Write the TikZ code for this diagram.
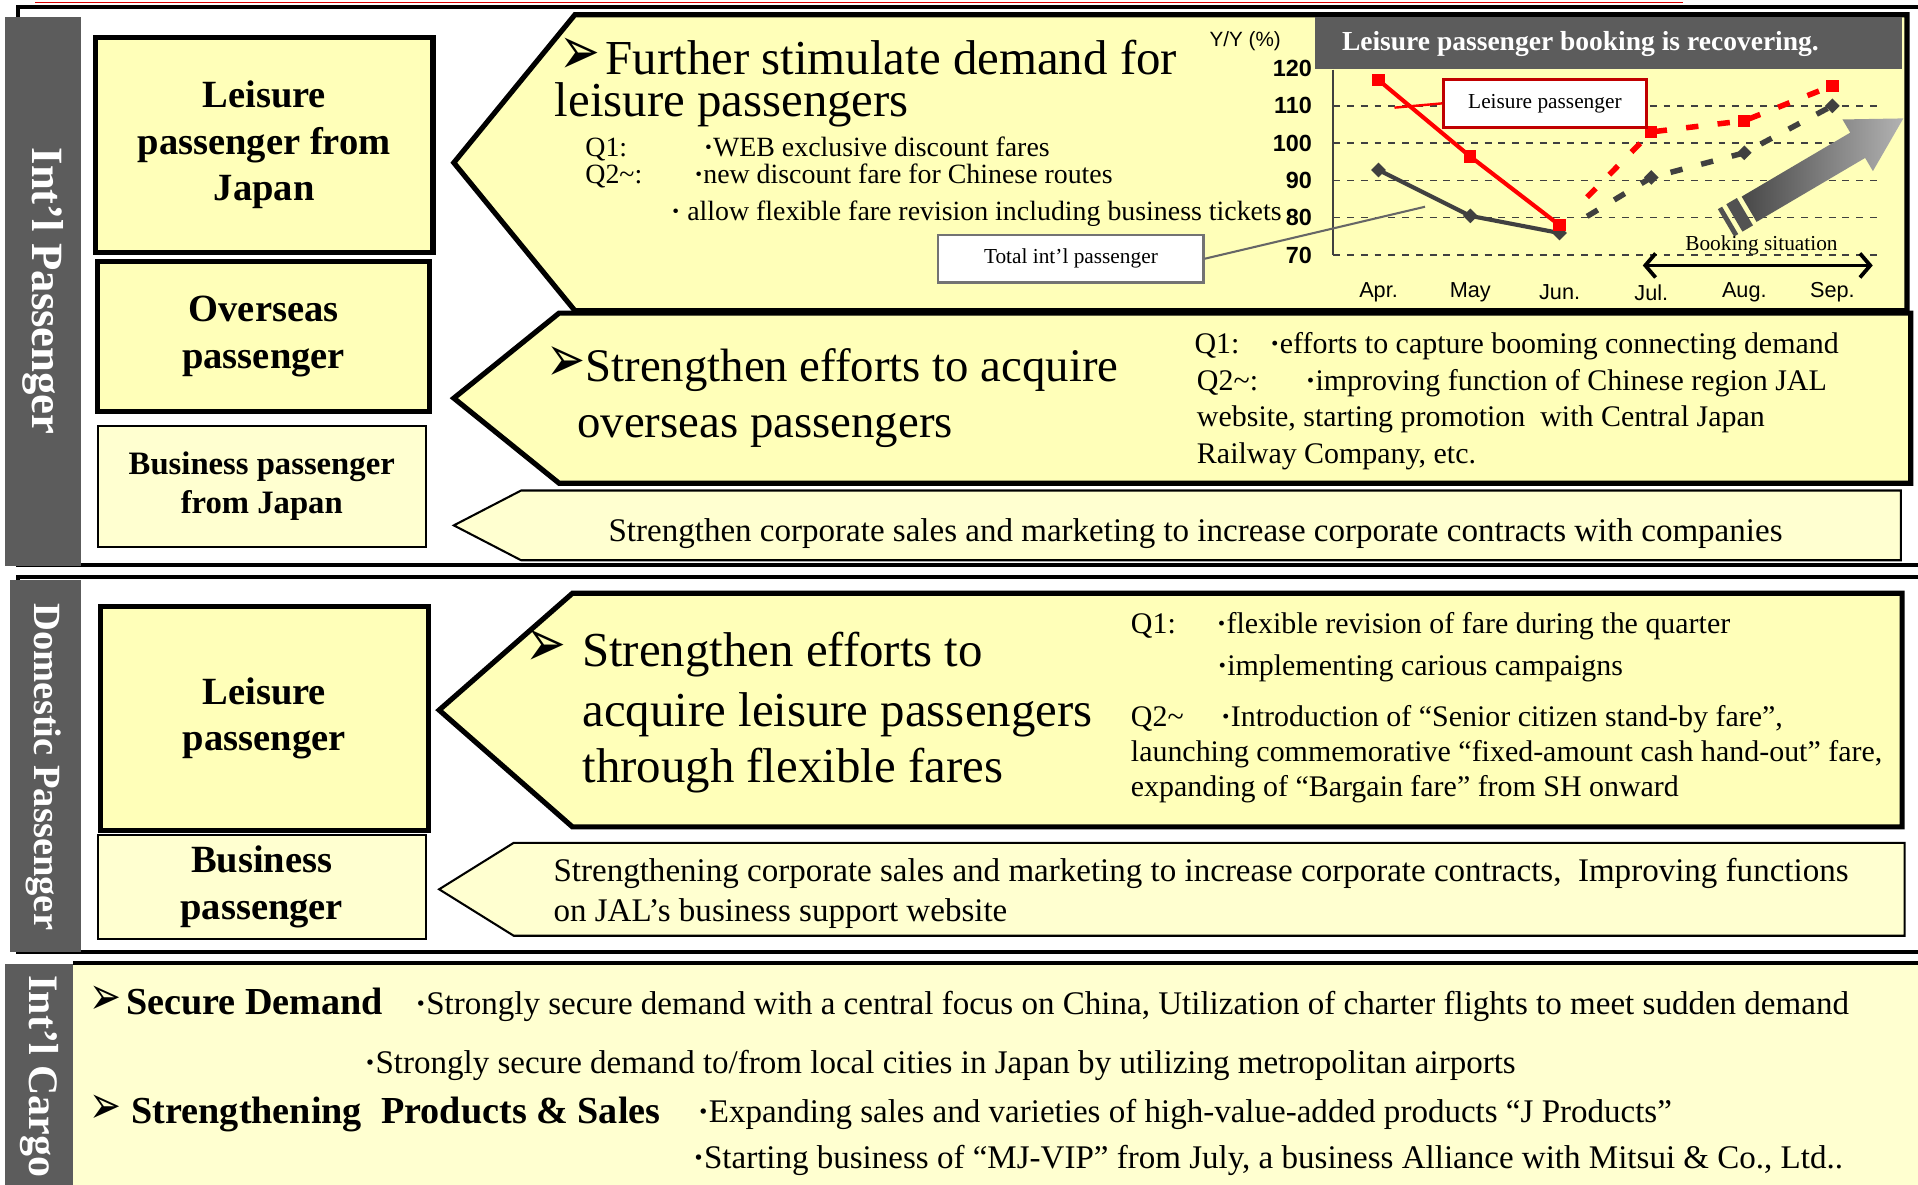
\documentclass[tikz,border=0pt]{standalone}
\usepackage{fontspec}
\setmainfont{Liberation Serif}
\setsansfont{Liberation Sans}
\newfontfamily\arrowfont{DejaVu Sans}
\usetikzlibrary{calc, arrows.meta}

\definecolor{barGray}{RGB}{92,92,92}
\definecolor{boxYellow}{RGB}{255,255,185}
\definecolor{paleYellow}{RGB}{255,255,208}
\definecolor{lineDark}{RGB}{64,64,64}
\definecolor{labelRed}{RGB}{192,0,0}
\newcommand{\tipmark}{\scalebox{1.0}[1.4]{\arrowfont ➢}}
\newcommand{\mdot}{\textbf{·}}
\newcommand{\yval}[1]{208.5-(#1-70)*3.05}

\tikzset{
    frame/.style={draw=black, line width=1.15pt},
    sidelabel/.style={text=white, rotate=-90, inner sep=0pt, font=\bfseries\fontsize{13}{15}\selectfont},
    thickbox/.style={draw=black, line width=1.5pt, fill=boxYellow, align=center, font=\bfseries\fontsize{11.2}{13.5}\selectfont},
    thinbox/.style={draw=black, line width=0.6pt, fill=paleYellow, align=center, font=\bfseries\fontsize{11.2}{13.5}\selectfont},
    bigshape/.style={draw=black, line width=1.5pt, fill=boxYellow},
    smallshape/.style={draw=black, line width=0.6pt, fill=paleYellow},
    headtext/.style={anchor=base west, inner sep=0pt, font=\fontsize{14.2}{17}\selectfont},
    notetext/.style={anchor=base west, inner sep=0pt, font=\fontsize{8.7}{10.5}\selectfont},
    smalltext/.style={anchor=base west, inner sep=0pt, font=\fontsize{8.1}{9.7}\selectfont},
    bodytext/.style={anchor=base west, inner sep=0pt, font=\fontsize{9.6}{11.5}\selectfont},
    cargohead/.style={anchor=base west, inner sep=0pt, font=\bfseries\fontsize{11.1}{13.3}\selectfont},
    gridline/.style={black!75, line width=0.4pt, dash pattern=on 2pt off 2pt},
    ticklabel/.style={anchor=east, inner sep=0pt, font=\sffamily\bfseries\fontsize{6.8}{8}\selectfont},
    monthlabel/.style={inner sep=0pt, font=\sffamily\fontsize{6.3}{7.5}\selectfont},
    leisureline/.style={red, line width=1.2pt},
    totalline/.style={lineDark, line width=1.2pt},
    forecast/.style={line width=1.6pt, dash pattern=on 3.6pt off 5.6pt},
    legendbox/.style={fill=white, line width=0.7pt, inner sep=0pt, font=\fontsize{6.2}{7.5}\selectfont},
    bookarrow/.style={{Straight Barb[length=3pt, width=7pt]}-{Straight Barb[length=3pt, width=7pt]}, line width=1.1pt}
}

\begin{document}
\begin{tikzpicture}[x=0.0125cm, y=-0.0125cm]
            \useasboundingbox (0,0) rectangle (1568,968);
            \fill[white] (0,0) rectangle (1568,968);
            \draw[red!85!black, line width=0.5pt] (29,2) -- (1376,2);
            \draw[frame] (1580,6) -- (15,6) -- (15,462) -- (1580,462);
            \draw[frame] (1580,472) -- (15,472) -- (15,778) -- (1580,778);
            \fill[paleYellow] (60,787) rectangle (1580,975);
            \draw[frame] (60,787) -- (1580,787);
            \fill[barGray] (4,14) rectangle (66,463);
            \fill[barGray] (8,474) rectangle (66,778);
            \fill[barGray] (4,788) rectangle (60,975);
            \node[sidelabel] (intlpax) at (35,238) {Int’l Passenger};
            \node[sidelabel, font=\bfseries\fontsize{11.2}{13}\selectfont] (dompax) at (36,627) {Domestic Passenger};
            \node[sidelabel, anchor=west, font=\bfseries\fontsize{12.2}{14}\selectfont] (intlcargo) at (32,797) {Int’l Cargo};

            \node (lpjp) at (216,118.5) [thickbox, minimum width=3.45cm, minimum height=2.19cm] {Leisure\\passenger from\\Japan};
            \node (ovpax) at (215.5,275) [thickbox, minimum width=3.39cm, minimum height=1.53cm] {Overseas\\passenger};
            \node (bpjp) at (214,397.5) [thinbox, minimum width=3.35cm, minimum height=1.24cm, font=\bfseries\fontsize{9.5}{11.4}\selectfont] {Business passenger\\from Japan};
            \node (dlpax) at (216,587.5) [thickbox, minimum width=3.35cm, minimum height=2.29cm] {Leisure\\passenger};
            \node (dbpax) at (214,725) [thinbox, minimum width=3.35cm, minimum height=1.05cm] {Business\\passenger};

            \draw[bigshape] (371,133) -- (470,12) -- (1559,12) -- (1559,254) -- (470,254) -- cycle;
            \draw[bigshape] (371,325.5) -- (457,256) -- (1562,256) -- (1562,395) -- (457,395) -- cycle;
            \draw[smallshape] (371,429.5) -- (426,401) -- (1554,401) -- (1554,458) -- (426,458) -- cycle;
            \draw[bigshape] (359,580.5) -- (468,485) -- (1555,485) -- (1555,676) -- (468,676) -- cycle;
            \draw[smallshape] (359,727) -- (420,689) -- (1557,689) -- (1557,765) -- (420,765) -- cycle;

            \node[headtext, align=left, font=\fontsize{14.2}{12.24}\selectfont] (fs) at (457,95.4) {\tipmark\hspace{1.5pt}Further stimulate demand for\\\hspace*{-1.4pt}leisure passengers};
            \node[smalltext] (fsq1) at (478,128) {\makebox[1.21cm][l]{Q1:}\mdot WEB exclusive discount fares};
            \node[smalltext] (fsq2) at (478,150) {\makebox[1.11cm][l]{Q2\textasciitilde:}\mdot new discount fare for Chinese routes};
            \node[smalltext] (fsq3) at (548,180) {\mdot\ allow flexible fare revision including business tickets};

            \node[headtext, font=\fontsize{13.6}{16}\selectfont] (ov1) at (446,312) {\tipmark Strengthen efforts to acquire};
            \node[headtext, font=\fontsize{13.6}{16}\selectfont] (ov2) at (471.5,358) {overseas passengers};
            \node[notetext] (ovq1) at (976,289) {\makebox[0.77cm][l]{Q1:}\mdot efforts to capture booming connecting demand};
            \node[notetext] (ovq2) at (978,319) {\makebox[1.11cm][l]{Q2\textasciitilde:}\mdot improving function of Chinese region JAL};
            \node[notetext] (ovq3) at (978,348.8) {website, starting promotion\ \ with Central Japan};
            \node[notetext] (ovq4) at (978,378.8) {Railway Company, etc.};
            \node[bodytext] (corp) at (497,442.8) {Strengthen corporate sales and marketing to increase corporate contracts with companies};

            \node[headtext] (dl1) at (429,544.5) {\makebox[0.58cm][l]{\tipmark}Strengthen efforts to};
            \node[headtext] (dl2) at (475.6,594) {acquire leisure passengers};
            \node[headtext] (dl3) at (475.6,640) {through flexible fares};
            \node[notetext] (dlq1) at (924,517.6) {\makebox[0.875cm][l]{Q1:}\mdot flexible revision of fare during the quarter};
            \node[notetext] (dlq2) at (994.6,552) {\mdot implementing carious campaigns};
            \node[notetext] (dlq3) at (924,594) {\makebox[0.92cm][l]{Q2\textasciitilde}\mdot Introduction of “Senior citizen stand-by fare”,};
            \node[notetext] (dlq4) at (924,622.7) {launching commemorative “fixed-amount cash hand-out” fare,};
            \node[notetext] (dlq5) at (924,651) {expanding of “Bargain fare” from SH onward};
            \node[bodytext] (dbc1) at (452,721) {Strengthening corporate sales and marketing to increase corporate contracts,\ \ Improving functions};
            \node[bodytext] (dbc2) at (452,753.5) {on JAL’s business support website};

            \node[cargohead] (cgsec) at (73,829) {\tipmark\hspace{1.2pt}Secure Demand};
            \node[bodytext] (cgs1) at (339,829) {\mdot Strongly secure demand with a central focus on China, Utilization of charter flights to meet sudden demand};
            \node[bodytext] (cgs2) at (297.5,878) {\mdot Strongly secure demand to/from local cities in Japan by utilizing metropolitan airports};
            \node[cargohead] (cgprod) at (73,918.7) {\tipmark\ Strengthening\ \ Products \& Sales};
            \node[bodytext] (cgp1) at (570,918) {\mdot Expanding sales and varieties of high-value-added products “J Products”};
            \node[bodytext] (cgp2) at (566,955) {\mdot Starting business of “MJ-VIP” from July, a business Alliance with Mitsui \& Co., Ltd..};

            \fill[barGray] (1075,14) rectangle (1555,56);
            \node[text=white, inner sep=0pt, font=\bfseries\fontsize{8}{9.6}\selectfont] (ctitle) at (1292,36) {Leisure passenger booking is recovering.};
            \node[inner sep=0pt, font=\sffamily\fontsize{6}{7}\selectfont] (yunit) at (1018,34) {Y/Y (\%)};
            \draw[black!75, line width=0.5pt] (1090,57) -- (1090,{\yval{70}});
            \foreach \v in {70,80,...,110}
                \draw[gridline] (1090,{\yval{\v}}) -- (1536,{\yval{\v}});
            \foreach \v in {70,80,...,120}
                \node[ticklabel] (y\v) at (1073,{\yval{\v}}) {\v};
            \foreach \m/\xm/\rv/\dv/\lab in {apr/1127/116.9/92.8/Apr., may/1202/96.4/80.5/May, jun/1275/78/75.9/Jun., jul/1350/103/90.8/Jul., aug/1426/106/97.4/Aug., sep/1498/115.4/110/Sep.}{
                \coordinate (r\m) at (\xm,{\yval{\rv}});
                \coordinate (d\m) at (\xm,{\yval{\dv}});
                \node[monthlabel] (m\m) at (\xm,239) {\lab};
            }

            \draw[totalline] (dapr) -- (dmay) -- (djun);
            \draw[totalline, forecast] ($(djun)!0.3!(djul)$) -- (djul) -- (daug) -- (dsep);
            \draw[leisureline] (rapr) -- (rmay) -- (rjun);
            \draw[leisureline, forecast] ($(rjun)!0.3!(rjul)$) -- (rjul) -- (raug) -- (rsep);
            \foreach \m in {apr,may,jun,jul,aug,sep}{
                \fill[lineDark] ($(d\m)+(-6,0)$) -- ++(6,-6) -- ++(6,6) -- ++(-6,6) -- cycle;
                \fill[red] ($(r\m)+(-5,-5)$) rectangle ($(r\m)+(5,5)$);
            }

            \node[legendbox, draw=labelRed, minimum width=2.075cm, minimum height=0.49cm] (lpbox) at (1263,84.5) {Leisure passenger};
            \coordinate (lptick) at (1140,88);
            \draw[red, line width=0.7pt] (lpbox.west) -- (lptick);
            \node[legendbox, draw=black!55, minimum width=2.71cm, minimum height=0.49cm] (tpbox) at (875.5,211.5) {Total int’l passenger};
            \coordinate (tptick) at (1165,169);
            \draw[black!60, line width=0.6pt] (tpbox.east) -- (tptick);

            \begin{scope}[shift={(1411,182.2)}, rotate=30.5]
                \fill[black!68] (0,-13) rectangle (4,13);
                \fill[black!68] (8,-13) rectangle (18,13);
                \shade[left color=black!72, right color=black!30] (22,-12) -- (125,-12) -- (125,-24.5) -- (168.3,0) -- (125,24.5) -- (125,12) -- (22,12) -- cycle;
            \end{scope}

            \node[inner sep=0pt, font=\fontsize{6.2}{7.5}\selectfont] (booking) at (1440,201) {Booking situation};
            \coordinate (bkL) at (1343,217);
            \coordinate (bkR) at (1531,217);
            \draw[bookarrow] (bkL) -- (bkR);
        \end{tikzpicture}
\end{document}
